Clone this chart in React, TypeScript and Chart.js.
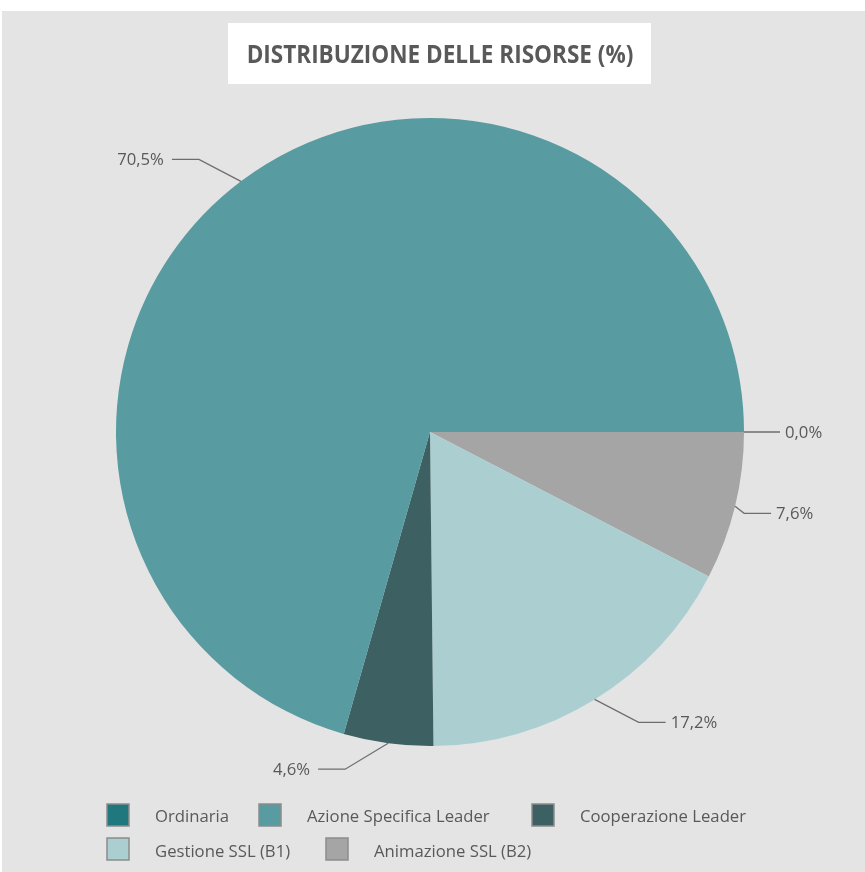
import React, { useEffect, useRef } from 'react';
import { Chart, registerables } from 'chart.js';

Chart.register(...registerables);

// ---- data (original legend order) ----
const categories = ['Ordinaria', 'Azione Specifica Leader', 'Cooperazione Leader', 'Gestione SSL (B1)', 'Animazione SSL (B2)'];
const shares = [0.0, 70.5, 4.6, 17.2, 7.6];
const colors = ['#1f787e', '#589ba1', '#3d6163', '#abcfd1', '#a5a5a5'];
const titleText = 'DISTRIBUZIONE DELLE RISORSE (%)';

// ---- styles ----
const FONT = '"Open Sans", "DejaVu Sans", sans-serif';
const TEXT_COLOR = '#595959';
const BG = '#e4e4e4';
// leader line: elbow offset from slice edge, then horizontal run (style only)
const leaderStyle = [
  { dx: 0, dy: 0, run: 36 },
  { dx: -42, dy: -22, run: -27 },
  { dx: -43, dy: 26, run: -27 },
  { dx: 44, dy: 23, run: 27 },
  { dx: 9, dy: 7, run: 27 },
];
const legendLayout = [
  { x: 107, row: 0 },
  { x: 259, row: 0 },
  { x: 532, row: 0 },
  { x: 107, row: 1 },
  { x: 326, row: 1 },
];
const legendRowY = [804, 838];

const fmt = (v: number) => v.toFixed(1).replace('.', ',') + '%';

const N = categories.length;
const chartLabels = categories.slice().reverse();
const chartValues = shares.slice().reverse();
const chartColors = colors.slice().reverse();

const decorPlugin = {
  id: 'decor',
  beforeDraw(chart: any) {
    const ctx = chart.ctx;
    ctx.save();
    ctx.fillStyle = '#ffffff';
    ctx.fillRect(0, 0, chart.width, chart.height);
    ctx.fillStyle = BG;
    ctx.fillRect(2, 11, chart.width - 2, chart.height - 11);
    // title box
    ctx.fillStyle = '#ffffff';
    ctx.fillRect(228, 23, 423, 61);
    ctx.fillStyle = TEXT_COLOR;
    ctx.font = `bold 24.5px ${FONT}`;
    ctx.textAlign = 'center';
    ctx.textBaseline = 'middle';
    ctx.translate(440, 56);
    ctx.scale(0.92, 1);
    ctx.fillText(titleText, 0, 0);
    ctx.restore();
  },
  afterDraw(chart: any) {
    const ctx = chart.ctx;
    const meta = chart.getDatasetMeta(0);
    ctx.save();
    // data labels with leader lines
    meta.data.forEach((arc: any, i: number) => {
      const oi = N - 1 - i;
      const p = arc.getProps(['x', 'y', 'startAngle', 'endAngle', 'outerRadius'], true);
      const mid = (p.startAngle + p.endAngle) / 2;
      const ex = p.x + Math.cos(mid) * p.outerRadius;
      const ey = p.y + Math.sin(mid) * p.outerRadius;
      const st = leaderStyle[oi];
      const bx = ex + st.dx;
      const by = ey + st.dy;
      const tx = bx + st.run;
      ctx.strokeStyle = '#6e6e6e';
      ctx.lineWidth = 1.3;
      ctx.beginPath();
      ctx.moveTo(ex, ey);
      ctx.lineTo(bx, by);
      ctx.lineTo(tx, by);
      ctx.stroke();
      ctx.fillStyle = TEXT_COLOR;
      ctx.font = `16.7px ${FONT}`;
      ctx.textBaseline = 'middle';
      if (st.run >= 0) {
        ctx.textAlign = 'left';
        ctx.fillText(fmt(shares[oi]), tx + 5, by + 1);
      } else {
        ctx.textAlign = 'right';
        ctx.fillText(fmt(shares[oi]), tx - 8, by + 1);
      }
    });
    // legend
    categories.forEach((name, i) => {
      const l = legendLayout[i];
      const y = legendRowY[l.row];
      ctx.fillStyle = colors[i];
      ctx.fillRect(l.x, y, 22, 22);
      ctx.strokeStyle = '#8c8c8c';
      ctx.lineWidth = 1.5;
      ctx.strokeRect(l.x, y, 22, 22);
      ctx.fillStyle = TEXT_COLOR;
      ctx.font = `16.7px ${FONT}`;
      ctx.textAlign = 'left';
      ctx.textBaseline = 'middle';
      ctx.fillText(name, l.x + 48, y + 13 + l.row * 1.5);
    });
    ctx.restore();
  },
};

export default function App() {
  const ref = useRef<HTMLCanvasElement | null>(null);
  useEffect(() => {
    if (!ref.current) return;
    const chart = new Chart(ref.current, {
      type: 'pie',
      data: {
        labels: chartLabels,
        datasets: [
          {
            data: chartValues,
            backgroundColor: chartColors,
            borderWidth: 0,
          },
        ],
      },
      options: {
        responsive: false,
        animation: false,
        devicePixelRatio: 1,
        rotation: 90,
        layout: { padding: { left: 116, right: 121, top: 118, bottom: 126 } },
        plugins: {
          legend: { display: false },
          title: { display: false },
          tooltip: { enabled: false },
        },
      },
      plugins: [decorPlugin],
    });
    return () => chart.destroy();
  }, []);
  return (
    <div style={{ position: 'fixed', left: 0, top: 0, width: 865, height: 872, background: '#fff' }}>
      <canvas ref={ref} width={865} height={872} style={{ display: 'block' }} />
    </div>
  );
}
